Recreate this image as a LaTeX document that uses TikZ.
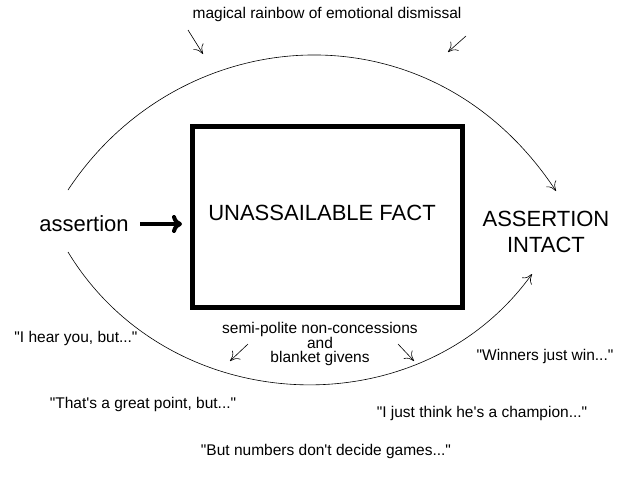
\documentclass[tikz,border=0pt]{standalone}
\usepackage{fontspec}
\setmainfont{Liberation Sans}[Ligatures=TeXOff]
\usetikzlibrary{arrows.meta}

\begin{document}
\begin{tikzpicture}[x=1pt,y=-1pt]
    \tikzstyle{big text}=[font=\fontsize{22}{26}\selectfont, align=center]
    \tikzstyle{small text}=[font=\fontsize{15.5}{16}\selectfont, align=center]
    \tikzstyle{thin arrow}=[-{To[length=9pt,width=12pt]}, semithick]

    \useasboundingbox (0,0) rectangle (640,480);

    \node[draw, line width=4.5pt, minimum width=270pt, minimum height=181pt] (fact) at (327.5,217) {};
    \node[big text] (label) at (322,213) {UNASSAILABLE FACT};
    \node[big text] (assertion) at (84,224) {assertion};
    \node[big text] (intact) at (546,232) {ASSERTION\\INTACT};

    \coordinate (arrowstart) at (140,224);
    \coordinate (arrowend) at (182,224);
    \draw[line width=4pt, -{To[length=10pt,width=18pt]}] (arrowstart) -- (arrowend);

    \coordinate (topstart) at (68,190);
    \coordinate (topend) at (556,191);
    \draw[thin arrow] (topstart) .. controls (180,20) and (430,0) .. (topend);

    \coordinate (botstart) at (68,252);
    \coordinate (botend) at (532,274);
    \draw[thin arrow] (botstart) .. controls (170,420) and (420,430) .. (botend);

    \node[small text] (rainbow) at (327,14) {magical rainbow of emotional dismissal};
    \coordinate (r1a) at (188,30); \coordinate (r1b) at (203,54);
    \coordinate (r2a) at (466,36); \coordinate (r2b) at (448,52);
    \draw[thin arrow] (r1a) -- (r1b);
    \draw[thin arrow] (r2a) -- (r2b);

    \node[small text, font=\fontsize{15.5}{14.5}\selectfont] (semi) at (320,344) {semi-polite non-concessions\\and\\blanket givens};
    \coordinate (s1a) at (248,344); \coordinate (s1b) at (230,361);
    \coordinate (s2a) at (398,344); \coordinate (s2b) at (414,361);
    \draw[thin arrow] (s1a) -- (s1b);
    \draw[thin arrow] (s2a) -- (s2b);

    \node[small text] (hear) at (76,338) {"I hear you, but..."};
    \node[small text] (great) at (143,404) {"That's a great point, but..."};
    \node[small text] (winners) at (545,356) {"Winners just win..."};
    \node[small text] (champion) at (482,413) {"I just think he's a champion..."};
    \node[small text] (numbers) at (326,451) {"But numbers don't decide games..."};
\end{tikzpicture}
\end{document}
